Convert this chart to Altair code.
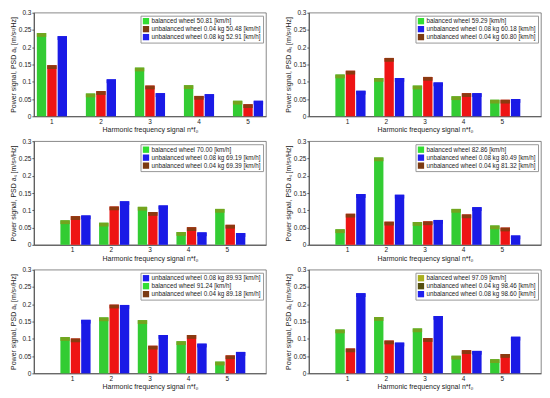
import altair as alt
import pandas as pd

harmonics = ["1", "2", "3", "4", "5"]

# speeds: balanced, unbalanced 0.04 kg, unbalanced 0.08 kg
p1_speeds = ["50.81", "50.48", "52.91"]
p1_balanced = [0.241, 0.066, 0.141, 0.090, 0.045]
p1_u004 = [0.148, 0.073, 0.089, 0.059, 0.035]
p1_u008 = [0.232, 0.107, 0.067, 0.064, 0.045]
p1_legend_order = [0, 1, 2]

p2_speeds = ["59.29", "60.80", "60.18"]
p2_balanced = [0.121, 0.111, 0.089, 0.058, 0.048]
p2_u004 = [0.132, 0.169, 0.114, 0.067, 0.048]
p2_u008 = [0.074, 0.111, 0.098, 0.067, 0.050]
p2_legend_order = [0, 2, 1]

p3_speeds = ["70.00", "69.39", "69.19"]
p3_balanced = [0.071, 0.064, 0.110, 0.037, 0.104]
p3_u004 = [0.083, 0.111, 0.095, 0.051, 0.058]
p3_u008 = [0.085, 0.126, 0.114, 0.036, 0.034]
p3_legend_order = [0, 2, 1]

p4_speeds = ["82.86", "81.32", "80.49"]
p4_balanced = [0.045, 0.253, 0.066, 0.104, 0.056]
p4_u004 = [0.090, 0.067, 0.068, 0.088, 0.050]
p4_u008 = [0.147, 0.145, 0.072, 0.109, 0.027]
p4_legend_order = [0, 2, 1]

p5_speeds = ["91.24", "89.18", "89.93"]
p5_balanced = [0.105, 0.162, 0.154, 0.093, 0.034]
p5_u004 = [0.101, 0.199, 0.080, 0.111, 0.052]
p5_u008 = [0.155, 0.198, 0.111, 0.086, 0.062]
p5_legend_order = [2, 0, 1]

p6_speeds = ["97.09", "98.46", "98.60"]
p6_balanced = [0.127, 0.163, 0.130, 0.051, 0.041]
p6_u004 = [0.072, 0.095, 0.102, 0.067, 0.056]
p6_u008 = [0.232, 0.089, 0.166, 0.065, 0.106]
p6_legend_order = [0, 1, 2]

BAR = ["#33cc33", "#ee1414", "#1a1ae6"]
TOP = ["#74a41e", "#8b3a10", "#1a1ae6"]
LEG = ["#33dd33", "#7b3a12", "#2020ee"]
LEG6 = ["#aab020", "#55500f", "#2020ee"]

Y_TITLE = "Power signal, PSD a\u209b [m/s\u00b2/Hz]"
X_TITLE = "Harmonic frequency signal n*f\u2080"
FONT = "Liberation Sans"


def panel(vals, speeds, order, leg_colors, tight):
    labels = [
        f"balanced wheel {speeds[0]} [km/h]",
        f"unbalanced wheel 0.04 kg {speeds[1]} [km/h]",
        f"unbalanced wheel 0.08 kg {speeds[2]} [km/h]",
    ]
    rows = []
    for k in range(3):
        for h, v in zip(harmonics, vals[k]):
            rows.append({"harmonic": h, "kind": k, "label": labels[k], "value": v})
    df = pd.DataFrame(rows)
    dom = [labels[i] for i in order]
    pi_, po_ = (0.385, 0.06) if tight else (0.37, 0.685)
    x = alt.X(
        "harmonic:N",
        sort=harmonics,
        scale=alt.Scale(paddingInner=pi_, paddingOuter=po_),
        axis=alt.Axis(labelAngle=0, title=X_TITLE, tickSize=0, labelPadding=2, titlePadding=1),
    )
    xo = alt.XOffset("kind:O", scale=alt.Scale(paddingInner=0.1))
    y = alt.Y(
        "value:Q",
        scale=alt.Scale(domain=[0, 0.3], nice=False),
        axis=alt.Axis(
            values=[0, 0.05, 0.1, 0.15, 0.2, 0.25, 0.3],
            format="~g",
            title=Y_TITLE,
            tickSize=2,
            labelPadding=1,
            titlePadding=2,
        ),
    )
    base = alt.Chart(df)
    bars = base.mark_bar().encode(
        x=x, xOffset=xo, y=y,
        color=alt.Color("label:N", scale=alt.Scale(domain=dom, range=[BAR[i] for i in order]), legend=None),
    )
    tops = base.transform_calculate(y0="datum.value - 0.011").mark_bar().encode(
        x=x, xOffset=xo, y=y, y2=alt.Y2("y0:Q"),
        color=alt.Color("label:N", scale=alt.Scale(domain=dom, range=[TOP[i] for i in order]), legend=None),
    )
    leg = base.mark_bar(opacity=0).encode(
        x=x, xOffset=xo, y=y,
        color=alt.Color(
            "label:N",
            scale=alt.Scale(domain=dom, range=[leg_colors[i] for i in order]),
            legend=alt.Legend(
                title=None,
                orient="top-right",
                offset=3,
                fillColor="white",
                strokeColor="#999999",
                padding=2,
                rowPadding=1,
                symbolType="square",
                symbolSize=40,
                symbolOpacity=1,
                symbolStrokeWidth=0,
                labelFontSize=6.3,
                labelFont=FONT,
                labelColor="#222222",
                labelLimit=400,
                labelOffset=2,
            ),
        ),
    )
    return alt.layer(bars, tops, leg).resolve_scale(color="independent").properties(width=233, height=104)


c1 = panel([p1_balanced, p1_u004, p1_u008], p1_speeds, p1_legend_order, LEG, True)
c2 = panel([p2_balanced, p2_u004, p2_u008], p2_speeds, p2_legend_order, LEG, False)
c3 = panel([p3_balanced, p3_u004, p3_u008], p3_speeds, p3_legend_order, LEG, False)
c4 = panel([p4_balanced, p4_u004, p4_u008], p4_speeds, p4_legend_order, LEG, False)
c5 = panel([p5_balanced, p5_u004, p5_u008], p5_speeds, p5_legend_order, LEG, False)
c6 = panel([p6_balanced, p6_u004, p6_u008], p6_speeds, p6_legend_order, LEG6, False)

chart = (
    alt.vconcat(
        alt.hconcat(c1, c2, spacing=16),
        alt.hconcat(c3, c4, spacing=16),
        alt.hconcat(c5, c6, spacing=16),
        spacing=4,
    )
    .properties(padding=0, background="white")
    .configure_view(stroke="#555555", strokeWidth=0.7)
    .configure_axis(
        labelFont=FONT,
        titleFont=FONT,
        labelFontSize=6.5,
        titleFontSize=7,
        titleFontWeight="normal",
        labelColor="#222222",
        titleColor="#222222",
        domainColor="#555555",
        tickColor="#555555",
        grid=False,
    )
)

chart.save("out.html", embed_options={"renderer": "svg", "actions": False})
